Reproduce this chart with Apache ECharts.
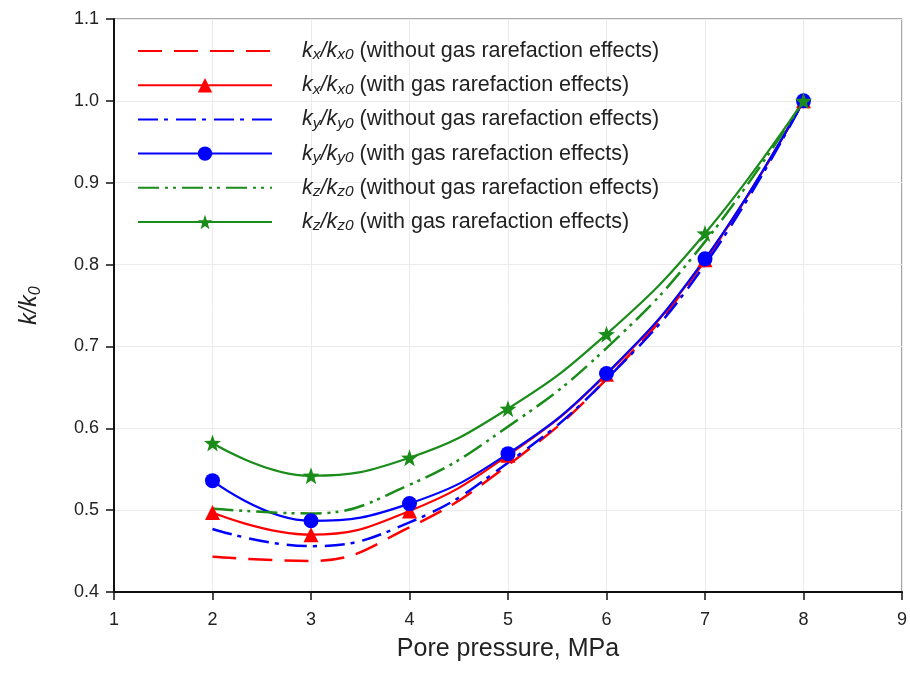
<!DOCTYPE html>
<html>
<head>
<meta charset="utf-8">
<script src="https://cdn.jsdelivr.net/npm/echarts@6/dist/echarts.min.js"></script>
<style>html,body{margin:0;padding:0;background:#fff}#c{width:910px;height:684px}</style>
</head>
<body>
<div id="c"></div>
<script>
const pressure = [2, 3, 4, 5, 6, 7, 8];
const kxWithout = [0.443, 0.438, 0.479, 0.555, 0.660, 0.805, 1.0];
const kxWith    = [0.497, 0.470, 0.499, 0.567, 0.666, 0.806, 1.0];
const kyWithout = [0.477, 0.456, 0.485, 0.558, 0.660, 0.800, 1.0];
const kyWith    = [0.536, 0.487, 0.508, 0.569, 0.667, 0.807, 1.0];
const kzWithout = [0.502, 0.496, 0.531, 0.602, 0.698, 0.828, 1.0];
const kzWith    = [0.582, 0.542, 0.564, 0.624, 0.715, 0.838, 1.0];
const xTicks = [1, 2, 3, 4, 5, 6, 7, 8, 9];
const yTicks = [0.4, 0.5, 0.6, 0.7, 0.8, 0.9, 1.0, 1.1];

const names = [
  '{k|k}{sub|x}{k|/k}{sub|x0}{t| (without gas rarefaction effects)}',
  '{k|k}{sub|x}{k|/k}{sub|x0}{t| (with gas rarefaction effects)}',
  '{k|k}{sub|y}{k|/k}{sub|y0}{t| (without gas rarefaction effects)}',
  '{k|k}{sub|y}{k|/k}{sub|y0}{t| (with gas rarefaction effects)}',
  '{k|k}{sub|z}{k|/k}{sub|z0}{t| (without gas rarefaction effects)}',
  '{k|k}{sub|z}{k|/k}{sub|z0}{t| (with gas rarefaction effects)}'
];
const RED = '#ff0000', BLUE = '#0000ff', GREEN = '#1a8c1a';
const star = 'path://M0,-10 L2.35,-3.24 L9.51,-3.09 L3.8,1.24 L5.88,8.09 L0,4 L-5.88,8.09 L-3.8,1.24 L-9.51,-3.09 L-2.35,-3.24 Z';
const blank = 'path://M0,0 L0.001,0 L0,0.001 Z M10,10 L10.001,10 L10,10.001 Z';

function pairs(arr){ return pressure.map((x,i)=>[x, arr[i]]); }
function mk(name, data, color, type, symbol, size, width){
  return {
    name, type:'line', data: pairs(data), smooth: 0.45,
    lineStyle:{color, width: width, type},
    itemStyle:{color},
    symbol: symbol || blank, symbolSize: symbol ? size : 1, showSymbol: !!symbol,
    emphasis:{disabled:true}
  };
}

const chart = echarts.init(document.getElementById('c'), null, {renderer:'canvas'});
const font = '"Liberation Sans", Arial, sans-serif';
chart.setOption({
  animation:false,
  textStyle:{fontFamily:font},
  grid:{left:114, right:6, top:19, bottom:92, show:true, borderColor:'#555', borderWidth:1, backgroundColor:'transparent'},
  legend:{
    orient:'vertical', left:132, top:35, itemWidth:134, itemHeight:18, itemGap:11.2,
    data: names,
    formatter: n => n,
    textStyle:{
      fontFamily:font, fontSize:21.5, color:'#222', padding:[0,0,0,25],
      rich:{
        k:{fontStyle:'italic', fontSize:21.5, color:'#222', lineHeight:24, fontFamily:font},
        sub:{fontStyle:'italic', fontSize:15.5, color:'#222', lineHeight:11, verticalAlign:'bottom', fontFamily:font},
        t:{fontSize:21.5, color:'#222', lineHeight:24, fontFamily:font}
      }
    }
  },
  xAxis:{
    type:'value', min:1, max:9, interval:1,
    name:'Pore pressure, MPa', nameLocation:'middle', nameGap:45,
    nameTextStyle:{fontSize:25, color:'#222', fontFamily:font},
    axisLine:{lineStyle:{color:'#111', width:2}},
    axisTick:{length:8, lineStyle:{color:'#111', width:1.5}},
    axisLabel:{fontSize:18, color:'#222', margin:19, fontFamily:font, formatter: v => xTicks.includes(v) ? String(v) : ''},
    splitLine:{show:true, lineStyle:{color:'#ebebeb', width:1}}
  },
  yAxis:{
    type:'value', min:0.4, max:1.1, interval:0.1,
    name:'{k|k/k}{sub|0}', nameLocation:'middle', nameGap:70, nameRotate:90,
    nameTextStyle:{fontSize:23, color:'#222', fontFamily:font,
      rich:{k:{fontStyle:'italic', fontSize:23, color:'#222', lineHeight:28, fontFamily:font},
            sub:{fontStyle:'italic', fontSize:16, color:'#222', lineHeight:12, verticalAlign:'bottom', fontFamily:font}}},
    axisLine:{lineStyle:{color:'#111', width:2}},
    axisTick:{length:8, lineStyle:{color:'#111', width:1.5}},
    axisLabel:{fontSize:18, color:'#222', margin:15, fontFamily:font,
      formatter: v => { const t = yTicks.find(y => Math.abs(y - v) < 1e-6); return t === undefined ? '' : t.toFixed(1); }},
    splitLine:{show:true, lineStyle:{color:'#ebebeb', width:1}}
  },
  series:[
    mk(names[0], kxWithout, RED, [24,12], null, 0, 2.5),
    mk(names[1], kxWith, RED, 'solid', 'triangle', 15, 2.2),
    mk(names[2], kyWithout, BLUE, [20,6,4,8], null, 0, 2.5),
    mk(names[3], kyWith, BLUE, 'solid', 'circle', 15, 2.2),
    mk(names[4], kzWithout, GREEN, [21,6,3,5,3,6], null, 0, 2.5),
    mk(names[5], kzWith, GREEN, 'solid', star, 17, 2.2)
  ]
});
</script>
</body>
</html>
